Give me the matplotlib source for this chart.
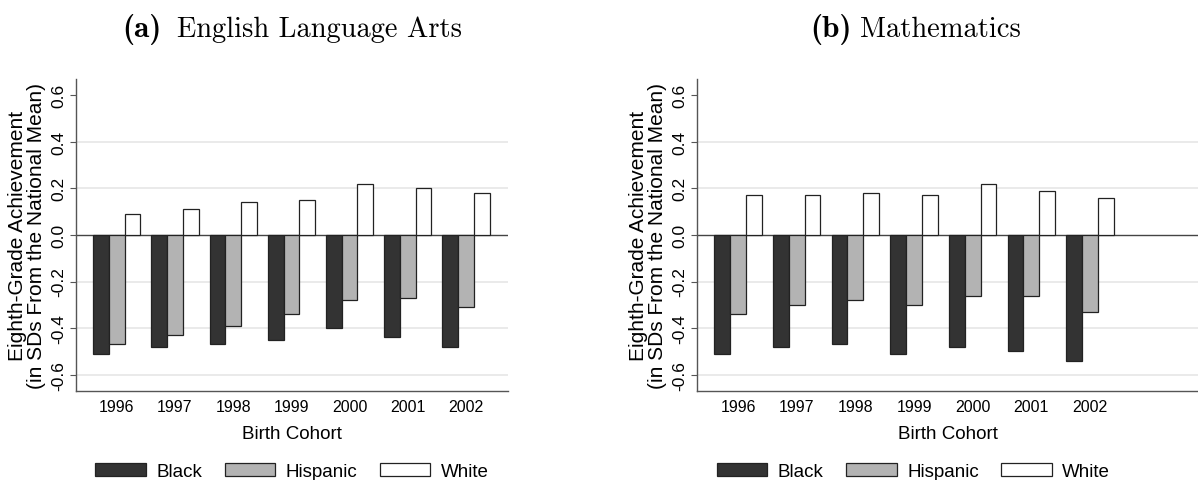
import matplotlib
matplotlib.use('Agg')
import matplotlib.pyplot as plt
import numpy as np

plt.rcParams['font.family'] = ['Liberation Sans', 'DejaVu Sans']

# Data (SDs from the national mean)
cohorts = [1996, 1997, 1998, 1999, 2000, 2001, 2002]
groups = ['Black', 'Hispanic', 'White']

ela_black = [-0.51, -0.48, -0.47, -0.45, -0.40, -0.44, -0.48]
ela_hispanic = [-0.47, -0.43, -0.39, -0.34, -0.28, -0.27, -0.31]
ela_white = [0.09, 0.11, 0.14, 0.15, 0.22, 0.20, 0.18]

math_black = [-0.51, -0.48, -0.47, -0.51, -0.48, -0.50, -0.54]
math_hispanic = [-0.34, -0.30, -0.28, -0.30, -0.26, -0.26, -0.33]
math_white = [0.17, 0.17, 0.18, 0.17, 0.22, 0.19, 0.16]

colors = ['#333333', '#b3b3b3', '#ffffff']
panel_tags = ['(a)', '(b)']
panel_names = ['English Language Arts', 'Mathematics']


def draw_panel(ax, series, xmax):
    x = np.array(cohorts, dtype=float)
    w = 0.27
    for i, (vals, c) in enumerate(zip(series, colors)):
        ax.bar(x + (i - 1) * w, vals, width=w, color=c, edgecolor='#222222',
               linewidth=0.9, label=groups[i], zorder=3)
    ax.axhline(0, color='#444444', lw=1.0, zorder=2)
    ax.set_ylim(-0.67, 0.67)
    ax.set_xlim(1995.3, xmax)
    ax.set_yticks([-0.6, -0.4, -0.2, 0.0, 0.2, 0.4, 0.6])
    ax.set_yticklabels(['-0.6', '-0.4', '-0.2', '0.0', '0.2', '0.4', '0.6'],
                       rotation=90, va='center')
    ax.set_xticks(cohorts)
    ax.tick_params(axis='x', length=0, pad=6, labelsize=11.5)
    ax.tick_params(axis='y', length=4, width=0.8, color='#555555', pad=3, labelsize=12.5)
    for y in [-0.6, -0.4, -0.2, 0.2, 0.4]:
        ax.axhline(y, color='#e6e6e6', lw=1.2, zorder=1)
    for s in ['top', 'right']:
        ax.spines[s].set_visible(False)
    for s in ['left', 'bottom']:
        ax.spines[s].set_color('#555555')
        ax.spines[s].set_linewidth(1.0)
    ax.set_xlabel('Birth Cohort', fontsize=13.5, labelpad=8)
    ax.set_ylabel('Eighth-Grade Achievement\n(in SDs From the National Mean)',
                  fontsize=15, labelpad=4, linespacing=0.95)


fig = plt.figure(figsize=(11.98, 4.81), dpi=100)
ax1 = fig.add_axes([0.0634, 0.185, 0.3606, 0.649])
ax2 = fig.add_axes([0.5818, 0.185, 0.4182, 0.649])

draw_panel(ax1, [ela_black, ela_hispanic, ela_white], 2002.72)
draw_panel(ax2, [math_black, math_hispanic, math_white], 2003.84)

# panel titles: bold tag + roman name
W, H = 1198.0, 481.0
for tag, name, x_tag, x_name in [(panel_tags[0], panel_names[0], 122, 177),
                                 (panel_tags[1], panel_names[1], 810, 860)]:
    fig.text(x_tag / W, 1 - 37 / H, tag, ha='left', va='baseline',
             fontsize=22.5, fontfamily='cmb10')
    fig.text(x_name / W, 1 - 37 / H, name, ha='left', va='baseline',
             fontsize=20.5, fontfamily='cmr10')

# legends under each panel
for ax, cx in [(ax1, 0.2437), (ax2, 0.7625)]:
    h, l = ax.get_legend_handles_labels()
    fig.legend(h, l, loc='center', bbox_to_anchor=(cx, 0.018), ncol=3, frameon=False,
               fontsize=13.5, handlelength=2.7, handleheight=0.7, handletextpad=0.55,
               columnspacing=1.2, borderpad=0)

fig.savefig('out.png', dpi=100)
